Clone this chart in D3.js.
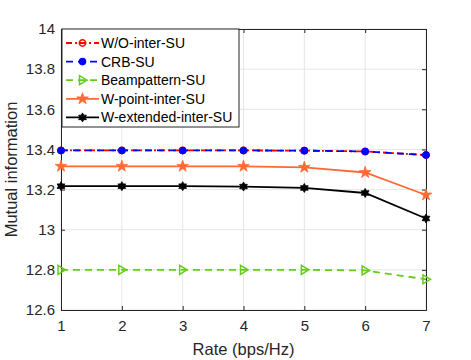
<!DOCTYPE html>
<html>
<head>
<meta charset="utf-8">
<script src="https://cdn.jsdelivr.net/npm/d3@7"></script>
<style>
  body { margin: 0; background: #fff; }
  svg { font-family: "Liberation Sans", Arial, sans-serif; }
</style>
</head>
<body>
<div id="chart"></div>
<script>
// chart data
const rates = [1, 2, 3, 4, 5, 6, 7];
const woInterSU = [13.395, 13.395, 13.395, 13.395, 13.394, 13.39, 13.372];
const crbSU = [13.395, 13.395, 13.395, 13.395, 13.394, 13.39, 13.372];
const beampatternSU = [12.8, 12.8, 12.8, 12.8, 12.8, 12.797, 12.753];
const wPointInterSU = [13.316, 13.316, 13.316, 13.316, 13.311, 13.285, 13.173];
const wExtendedInterSU = [13.217, 13.217, 13.217, 13.215, 13.208, 13.183, 13.056];
const yTicks = [12.6, 12.8, 13, 13.2, 13.4, 13.6, 13.8, 14];

const W = 471, H = 360;
const margin = {top: 29, right: 45, bottom: 50, left: 61},
    width = W - margin.left - margin.right,
    height = H - margin.top - margin.bottom;

const series = [
    {name: "W/O-inter-SU", values: woInterSU, color: "#ff0000", dash: "6,3,2,3", marker: "circleOpen"},
    {name: "CRB-SU", values: crbSU, color: "#0000ff", dash: "7,5", marker: "circleFilled"},
    {name: "Beampattern-SU", values: beampatternSU, color: "#66cc1a", dash: "7,5", marker: "triangle"},
    {name: "W-point-inter-SU", values: wPointInterSU, color: "#ff6a33", dash: null, marker: "star"},
    {name: "W-extended-inter-SU", values: wExtendedInterSU, color: "#000000", dash: null, marker: "hexagram"}
];

const svg = d3.select("#chart").append("svg")
    .attr("width", W)
    .attr("height", H);

const g = svg.append("g")
    .attr("transform", `translate(${margin.left},${margin.top})`);

const x = d3.scaleLinear().domain([1, 7]).range([0, width]);
const y = d3.scaleLinear().domain([12.6, 14]).range([height, 0]);

// grid
g.selectAll(".gx").data(rates).enter().append("line")
    .attr("x1", d => x(d)).attr("x2", d => x(d))
    .attr("y1", 0).attr("y2", height)
    .attr("stroke", "#e6e6e6").attr("stroke-width", 1);
g.selectAll(".gy").data(yTicks).enter().append("line")
    .attr("x1", 0).attr("x2", width)
    .attr("y1", d => y(d)).attr("y2", d => y(d))
    .attr("stroke", "#e6e6e6").attr("stroke-width", 1);

// axes
const xAxis = d3.axisBottom(x).tickValues(rates).tickSize(-4).tickPadding(10).tickFormat(d3.format("d"));
const yAxis = d3.axisLeft(y).tickValues(yTicks).tickSize(-4).tickPadding(6).tickFormat(d => d3.format("")(d));

const gx = g.append("g").attr("transform", `translate(0,${height})`).call(xAxis);
const gy = g.append("g").call(yAxis);
const gxTop = g.append("g").call(d3.axisTop(x).tickValues(rates).tickSize(-4).tickFormat(""));
const gyRight = g.append("g").attr("transform", `translate(${width},0)`).call(d3.axisRight(y).tickValues(yTicks).tickSize(-4).tickFormat(""));

[gx, gy, gxTop, gyRight].forEach(a => {
    a.select(".domain").attr("stroke", "#262626");
    a.selectAll(".tick line").attr("stroke", "#262626");
    a.selectAll("text").attr("fill", "#262626").style("font-size", "15px");
});

g.append("text")
    .attr("x", width / 2).attr("y", height + 45)
    .attr("text-anchor", "middle")
    .attr("fill", "#262626")
    .style("font-size", "16.5px")
    .text("Rate (bps/Hz)");

g.append("text")
    .attr("transform", `translate(${-44},${height / 2}) rotate(-90)`)
    .attr("text-anchor", "middle")
    .attr("fill", "#262626")
    .style("font-size", "16.5px")
    .text("Mutual information");

// markers
function drawMarker(sel, type, color) {
    if (type === "circleOpen") {
        sel.append("circle").attr("r", 3.2).attr("fill", "none").attr("stroke", color).attr("stroke-width", 1.5);
    } else if (type === "circleFilled") {
        sel.append("circle").attr("r", 3.8).attr("fill", color).attr("stroke", "none");
    } else if (type === "triangle") {
        sel.append("path").attr("d", "M-3,-4.5L4.5,0L-3,4.5Z").attr("fill", "none").attr("stroke", color).attr("stroke-width", 1.5);
    } else if (type === "star") {
        sel.append("path").attr("d", d3.symbol(d3.symbolStar, 42)).attr("fill", color).attr("stroke", color).attr("stroke-width", 0.8);
    } else if (type === "hexagram") {
        const r = 4.5, ri = 2.6;
        const pts = d3.range(12).map(i => {
            const a = Math.PI / 6 * i - Math.PI / 2;
            const rr = i % 2 === 0 ? r : ri;
            return [rr * Math.cos(a), rr * Math.sin(a)];
        });
        sel.append("path").attr("d", "M" + pts.join("L") + "Z").attr("fill", color).attr("stroke", color).attr("stroke-width", 0.8);
    }
}

const line = d3.line().x((d, i) => x(rates[i])).y(d => y(d));

const plot = g.append("g");
series.forEach(s => {
    plot.append("path")
        .datum(s.values)
        .attr("d", line)
        .attr("fill", "none")
        .attr("stroke", s.color)
        .attr("stroke-width", 1.8)
        .attr("stroke-dasharray", s.dash);
    s.values.forEach((v, i) => {
        const m = plot.append("g").attr("transform", `translate(${x(rates[i])},${y(v)})`);
        drawMarker(m, s.marker, s.color);
    });
});

// legend
const leg = g.append("g").attr("transform", "translate(1,0)");
leg.append("rect")
    .attr("x", 0).attr("y", 0)
    .attr("width", 177).attr("height", 98)
    .attr("fill", "#fff").attr("stroke", "#262626").attr("stroke-width", 1);
series.forEach((s, i) => {
    const ly = 14 + i * 18.6;
    leg.append("line")
        .attr("x1", 4).attr("x2", 37)
        .attr("y1", ly).attr("y2", ly)
        .attr("stroke", s.color).attr("stroke-width", 1.8)
        .attr("stroke-dasharray", s.dash);
    const m = leg.append("g").attr("transform", `translate(20.5,${ly})`);
    drawMarker(m, s.marker, s.color);
    leg.append("text")
        .attr("x", 39).attr("y", ly + 5)
        .attr("fill", "#000")
        .style("font-size", "14px")
        .text(s.name);
});
</script>
</body>
</html>
